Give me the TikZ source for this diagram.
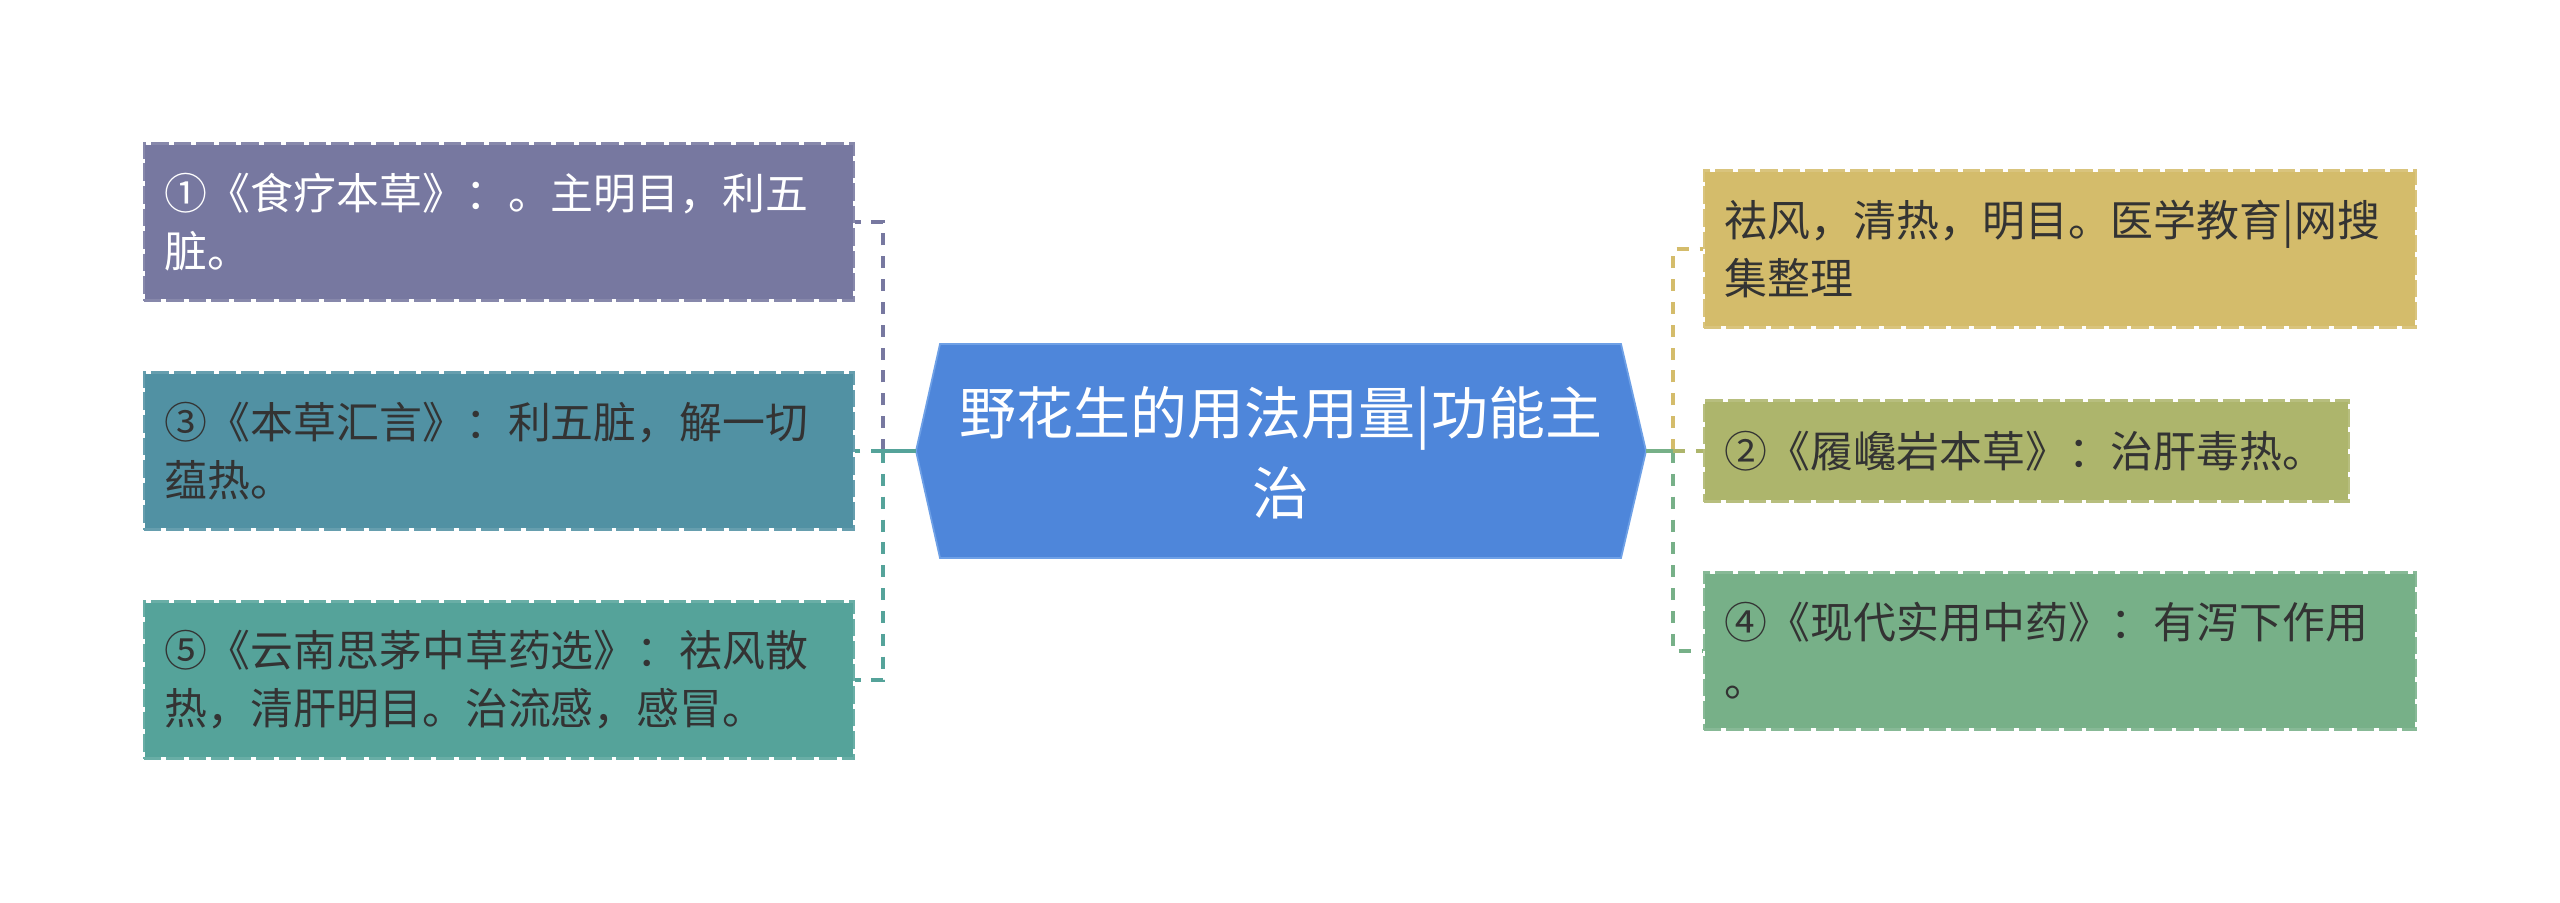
\documentclass[tikz,border=0pt]{standalone}
\usepackage{fontspec}
\newfontfamily\cjk{Noto Sans CJK SC}
\usetikzlibrary{calc}
\definecolor{cPurple}{RGB}{119,120,160}
\definecolor{cTealB}{RGB}{81,145,163}
\definecolor{cTealG}{RGB}{85,163,154}
\definecolor{cGold}{RGB}{212,188,107}
\definecolor{cOlive}{RGB}{173,181,108}
\definecolor{cGreen}{RGB}{119,176,136}
\definecolor{cBlue}{RGB}{78,134,218}
\definecolor{cBlueLine}{RGB}{110,160,230}
\definecolor{textdark}{RGB}{51,51,51}
\tikzset{
  leaf/.style={rectangle, fill=#1, draw=white, line width=0.6pt,
    postaction={draw=#1!88!white, line width=0.6pt, dash pattern=on 5pt off 1.4pt},
    minimum height=1.57cm, inner xsep=0.21cm, inner ysep=0pt,
    align=left, font=\cjk\fontsize{12.2}{16.5}\selectfont, text=textdark},
  conn/.style={draw=#1, line width=1.25pt, dash pattern=on 3.4pt off 3.1pt},
  trunk/.style={draw=#1, line width=1.25pt},
  centertext/.style={align=center, text width=7.0cm, text=white,
    font=\cjk\fontsize{16.2}{22.8}\selectfont, inner sep=0pt}
}
\begin{document}
\begin{tikzpicture}[x=0.01cm,y=-0.01cm]
\useasboundingbox (0,0) rectangle (2560,903);

% central hexagon
\coordinate (hl) at (916,451);
\coordinate (htl) at (940,344);
\coordinate (htr) at (1621,344);
\coordinate (hr) at (1646,451);
\coordinate (hbr) at (1621,558);
\coordinate (hbl) at (940,558);
\filldraw[fill=cBlue, draw=cBlueLine, line width=0.5pt] (hl) -- (htl) -- (htr) -- (hr) -- (hbr) -- (hbl) -- cycle;
\node[centertext] (center) at (1281,453) {野花生的用法用量|功能主\\治};

% left leaves
\node[leaf=cPurple, text=white, text width=6.68cm] (b1) at (499,222)
  {①《食疗本草》：。主明目，利五\\脏。};
\node[leaf=cTealB, text width=6.68cm] (b3) at (499,451)
  {③《本草汇言》：利五脏，解一切\\蕴热。};
\node[leaf=cTealG, text width=6.68cm] (b5) at (499,680)
  {⑤《云南思茅中草药选》：祛风散\\热，清肝明目。治流感，感冒。};

% right leaves
\node[leaf=cGold, text width=6.70cm] (rA) at (2060,249)
  {祛风，清热，明目。医学教育|网搜\\集整理};
\node[leaf=cOlive, text width=6.03cm, minimum height=1.01cm] (rB) at (2026.5,451)
  {②《履巉岩本草》：治肝毒热。};
\node[leaf=cGreen, text width=6.70cm] (rC) at (2060,651)
  {④《现代实用中药》：有泻下作用\\。};

% junctions
\coordinate (jl) at (883,451);
\coordinate (jr) at (1673,451);

% left connectors
\draw[conn=cPurple] (jl) |- (b1.east);
\draw[conn=cTealG] (jl) |- (b5.east);
\draw[conn=cTealG] (jl) -- (b3.east);
\draw[trunk=cTealG] (hl) -- (jl);

% right connectors
\draw[conn=cGold] (jr) |- (rA.west);
\draw[conn=cGreen] (jr) |- (rC.west);
\draw[conn=cOlive] (jr) -- (rB.west);
\draw[trunk=cGreen] (hr) -- (jr);
\end{tikzpicture}
\end{document}
